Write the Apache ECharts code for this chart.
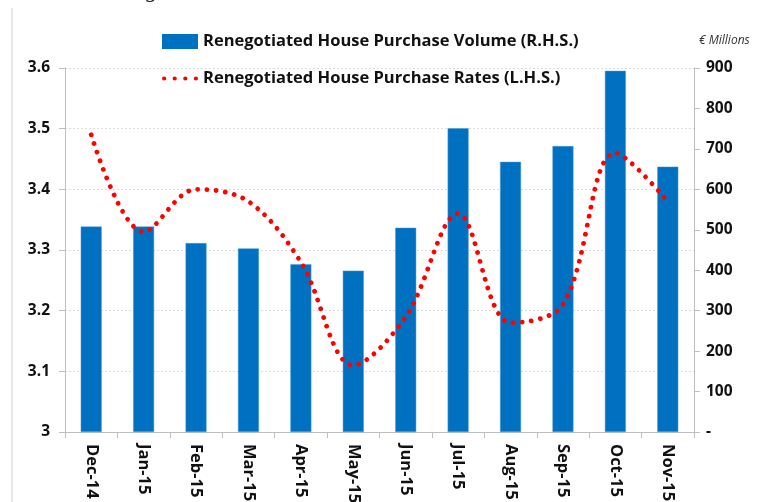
<!DOCTYPE html>
<html>
<head>
<meta charset="utf-8">
<script src="https://cdn.jsdelivr.net/npm/echarts@6/dist/echarts.min.js"></script>
<style>
  html, body { margin: 0; padding: 0; background: #fff; }
  #main { width: 764px; height: 502px; }
</style>
</head>
<body>
<div id="main"></div>
<script>
// months on the x axis
var months = ['Dec-14', 'Jan-15', 'Feb-15', 'Mar-15', 'Apr-15', 'May-15',
              'Jun-15', 'Jul-15', 'Aug-15', 'Sep-15', 'Oct-15', 'Nov-15'];

// volume, € millions (right axis)
var volume = [508, 508, 467, 454, 415, 399, 505, 751, 668, 707, 893, 656];

// rates, % (left axis)
var rates = [3.49, 3.33, 3.40, 3.38, 3.28, 3.11, 3.19, 3.36, 3.18, 3.21, 3.46, 3.38];

var volumeName = 'Renegotiated House Purchase Volume (R.H.S.)';
var ratesName = 'Renegotiated House Purchase Rates (L.H.S.)';

var labelFont = { fontFamily: 'Open Sans', fontWeight: 'bold', fontSize: 15.5, color: '#111' };
var axisGray = '#bfbfbf';

// four dots for the legend entry of the dotted line
var dotsIcon = 'path://M0,2a2,2 0 1,0 4,0a2,2 0 1,0 -4,0' +
  'M10,2a2,2 0 1,0 4,0a2,2 0 1,0 -4,0' +
  'M20,2a2,2 0 1,0 4,0a2,2 0 1,0 -4,0' +
  'M30,2a2,2 0 1,0 4,0a2,2 0 1,0 -4,0';

var chart = echarts.init(document.getElementById('main'));

var option = {
  animation: false,
  backgroundColor: '#fff',
  grid: { left: 65, right: 70, top: 68, bottom: 70, containLabel: false, outerBoundsMode: 'none' },
  legend: {
    orient: 'vertical',
    left: 157,
    top: 28,
    itemGap: 20,
    itemWidth: 36,
    itemHeight: 15,
    symbolKeepAspect: true,
    itemStyle: { borderWidth: 0 },
    textStyle: { fontFamily: 'Open Sans', fontWeight: 'bold', fontSize: 16.5, color: '#111' },
    data: [
      { name: volumeName, icon: 'rect' },
      { name: ratesName, icon: dotsIcon }
    ]
  },
  graphic: [
    { type: 'line', shape: { x1: 12, y1: 8, x2: 12, y2: 502 }, style: { stroke: '#d0d0d0', lineWidth: 1 } },
    { type: 'text', left: 16, top: -21,
      style: { text: 'Chart 4: Renegotiated Loans', font: 'italic 23px "Liberation Serif"', fill: '#222' } },
    { type: 'text', left: 699, top: 35,
      style: { text: '€ Millions', font: 'italic 12px "Open Sans"', fill: '#333' } }
  ],
  xAxis: {
    type: 'category',
    data: months,
    axisLine: { lineStyle: { color: axisGray } },
    axisTick: { show: true, alignWithLabel: false, length: 6, lineStyle: { color: axisGray } },
    axisLabel: Object.assign({ rotate: -90, margin: 12, interval: 0 }, labelFont, { fontSize: 16.5 }),
    splitLine: { show: false }
  },
  yAxis: [
    {
      type: 'value',
      min: 3, max: 3.6, interval: 0.1,
      axisLine: { show: true, lineStyle: { color: axisGray } },
      axisTick: { show: true, length: 6, lineStyle: { color: axisGray } },
      axisLabel: Object.assign({ margin: 15, formatter: function (v) { return +v.toFixed(1) + ''; } }, labelFont),
      splitLine: { show: true, lineStyle: { color: '#dcdcdc', type: [2, 2], width: 1 } }
    },
    {
      type: 'value',
      min: 0, max: 900, interval: 100,
      position: 'right',
      axisLine: { show: true, lineStyle: { color: axisGray } },
      axisTick: { show: true, length: 6, lineStyle: { color: axisGray } },
      axisLabel: Object.assign({ margin: 12, formatter: function (v) { return v === 0 ? '-' : v; } }, labelFont),
      splitLine: { show: false }
    }
  ],
  series: [
    {
      name: volumeName,
      type: 'bar',
      yAxisIndex: 1,
      data: volume,
      barWidth: '40%',
      itemStyle: { color: '#0070c0', borderColor: '#4a9bd6', borderWidth: 0.5 }
    },
    {
      name: ratesName,
      type: 'line',
      yAxisIndex: 0,
      data: rates,
      smooth: 0.35,
      symbol: 'none',
      lineStyle: { color: '#ff0000', width: 4.8, type: [0.01, 9.2], cap: 'round' },
      itemStyle: { color: '#ff0000' },
      z: 5
    }
  ]
};

chart.setOption(option);
</script>
</body>
</html>
